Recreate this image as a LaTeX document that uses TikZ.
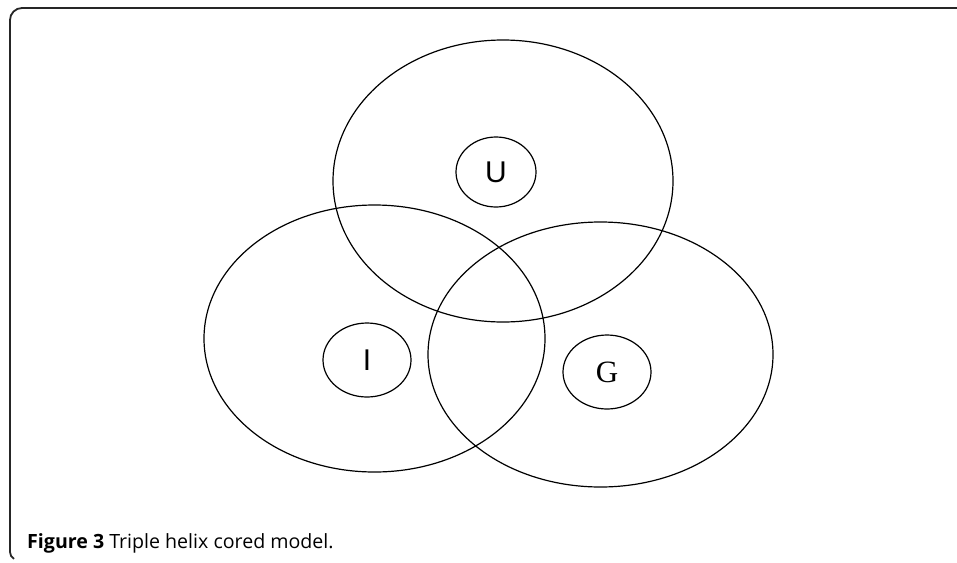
\documentclass[tikz,border=0pt]{standalone}
\usepackage{fontspec}
\setmainfont{Liberation Sans}
\newfontfamily\capfont{Open Sans}
\newfontfamily\serifG{Liberation Serif}
\usetikzlibrary{shapes.geometric}
\tikzset{
  bigcircle/.style={draw=black, line width=1.2pt, ellipse},
  core/.style={draw=black, line width=1.2pt, ellipse, inner sep=0pt, font=\fontsize{30}{30}\selectfont},
  frameline/.style={draw=black!85, line width=1.8pt},
}
\begin{document}
\begin{tikzpicture}[x=1pt, y=-1pt]
\useasboundingbox (0,0) rectangle (957,562);
% frame
\coordinate (ftr) at (957,8);
\draw[frameline] (ftr) -- (22,8) arc[start angle=-90, end angle=-180, radius=12] -- (10,552) arc[start angle=180, end angle=120, radius=8];
% big circles
\draw[bigcircle] (503,181) ellipse [x radius=170, y radius=141];
\draw[bigcircle] (374.5,338.5) ellipse [x radius=170.5, y radius=133.5];
\draw[bigcircle] (600.5,354.5) ellipse [x radius=172.5, y radius=132.5];
% cores
\node[core, minimum width=80pt, minimum height=70pt] (u) at (496,172) {U};
\node[core, minimum width=88pt, minimum height=74pt] (i) at (367,360) {I};
\node[core, minimum width=88pt, minimum height=74pt, font=\serifG\fontsize{31}{31}\selectfont] (g) at (607,372) {G};
% caption
\node[anchor=base west, inner sep=0pt, font=\capfont\fontsize{19.6}{19.6}\selectfont] (cap) at (27,548) {\textbf{Figure 3} Triple helix cored model.};
\end{tikzpicture}
\end{document}
